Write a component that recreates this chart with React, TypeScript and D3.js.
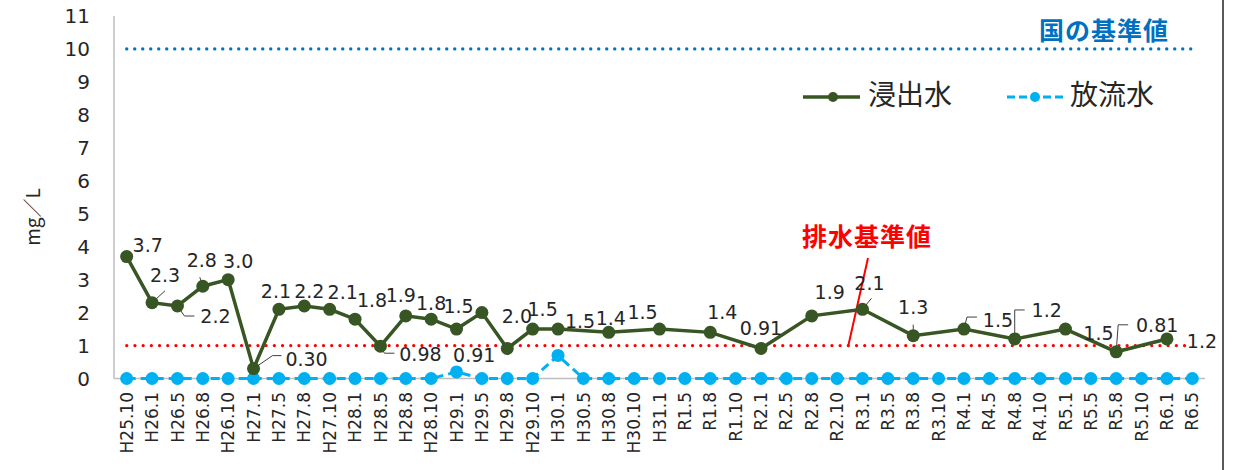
import React from "react";
import * as d3 from "d3";

const categories = [
  "H25.10", "H26.1", "H26.5", "H26.8", "H26.10", "H27.1", "H27.5", "H27.8", "H27.10",
  "H28.1", "H28.5", "H28.8", "H28.10", "H29.1", "H29.5", "H29.8", "H29.10", "H30.1",
  "H30.5", "H30.8", "H30.10", "H31.1", "R1.5", "R1.8", "R1.10", "R2.1", "R2.5", "R2.8",
  "R2.10", "R3.1", "R3.5", "R3.8", "R3.10", "R4.1", "R4.5", "R4.8", "R4.10", "R5.1",
  "R5.5", "R5.8", "R5.10", "R6.1", "R6.5",
];

// 浸出水 (leachate)
const leachate: (number | null)[] = [
  3.7, 2.3, 2.2, 2.8, 3.0, 0.30, 2.1, 2.2, 2.1,
  1.8, 0.98, 1.9, 1.8, 1.5, 2.0, 0.91, 1.5, 1.5,
  null, 1.4, null, 1.5, null, 1.4, null, 0.91, null, 1.9,
  null, 2.1, null, 1.3, null, 1.5, null, 1.2, null, 1.5,
  null, 0.81, null, 1.2, null,
];

// 放流水 (discharge)
const discharge: number[] = [
  0, 0, 0, 0, 0, 0, 0, 0, 0,
  0, 0, 0, 0, 0.2, 0, 0, 0, 0.7,
  0, 0, 0, 0, 0, 0, 0, 0, 0, 0,
  0, 0, 0, 0, 0, 0, 0, 0, 0, 0,
  0, 0, 0, 0, 0,
];

const yTicks = [0, 1, 2, 3, 4, 5, 6, 7, 8, 9, 10, 11];
const nationalStandard = 10;
const effluentStandard = 1;

const seriesNames = ["浸出水", "放流水"];
const nationalLabel = "国の基準値";
const effluentLabel = "排水基準値";
const yTitle = "mg／L";

// label layout (offsets of label centre from its point), by category index
const labelOffsets: Record<number, [number, number]> = {
  0: [21, -11], 1: [13, -28], 2: [38, 10], 3: [-1, -26], 4: [10, -18],
  5: [53, -9], 6: [-3, -18], 7: [5, -15], 8: [13, -17], 9: [17, -19],
  10: [40, 8], 11: [-5, -21], 12: [0, -16], 13: [2, -23], 14: [35, 4],
  15: [-33, 7], 16: [10, -20], 17: [22, -8], 19: [2, -14], 21: [-17, -17],
  23: [12, -20], 25: [0, -20], 27: [18, -24], 29: [7, -26], 31: [0, -28],
  33: [34, -9], 35: [32, -29], 37: [33, 4], 39: [41, -27], 41: [35, 2],
};

// leader lines, relative to the point
const leaders: Record<number, [number, number][]> = {
  1: [[0, 0], [13, -12]],
  2: [[0, 0], [7, 10], [17, 10]],
  3: [[-3, -9], [0, 0]],
  5: [[0, 0], [19, -13], [28, -13]],
  10: [[0, 0], [4, 7], [14, 7]],
  29: [[0, 0], [9, -11]],
  31: [[0, -11], [0, 0]],
  33: [[0, 0], [3, -12], [13, -12]],
  35: [[0, 0], [0, -29], [10, -29]],
  39: [[0, 0], [2, -27], [12, -27]],
};

const W = 1246;
const H = 470;
const GREEN = "#375623";
const BLUE = "#00B0F0";
const TEXT = "#262626";
const FONT = "'DejaVu Sans', sans-serif";
const CJK = "'Noto Sans CJK JP', sans-serif";

export default function App() {
  const x = d3.scaleBand<string>().domain(categories).range([114, 1205]).padding(0);
  const cx = (c: string) => (x(c) ?? 0) + x.bandwidth() / 2;
  const y = d3.scaleLinear().domain([0, 11]).range([378.5, 16]);

  const greenPts = categories
    .map((c, i) => ({ c, i, v: leachate[i] }))
    .filter((d) => d.v !== null) as { c: string; i: number; v: number }[];
  const bluePts = categories.map((c, i) => ({ c, i, v: discharge[i] }));

  const line = d3
    .line<{ c: string; v: number }>()
    .x((d) => cx(d.c))
    .y((d) => y(d.v));

  const fmt = d3.format(".2r");
  const refX0 = cx(categories[0]);
  const refX1 = cx(categories[categories.length - 1]);

  return (
    <svg
      width={W}
      height={H}
      style={{ position: "absolute", left: 0, top: 0, background: "#fff" }}
    >
      <rect x={0} y={0} width={W} height={H} fill="#fff" />
      {/* axes */}
      <line x1={114} x2={114} y1={y(11)} y2={y(0)} stroke="#BFBFBF" strokeWidth={1.5} />
      <line x1={114} x2={1205} y1={y(0)} y2={y(0)} stroke="#BFBFBF" strokeWidth={1.5} />
      {yTicks.map((t) => (
        <text
          key={t}
          x={90}
          y={y(t)}
          dy="0.36em"
          textAnchor="end"
          fontFamily={FONT}
          fontSize={20}
          fill={TEXT}
        >
          {t}
        </text>
      ))}
      {categories.map((c) => (
        <text
          key={c}
          transform={`translate(${cx(c)},392) rotate(-90)`}
          dy="0.36em"
          textAnchor="end"
          fontFamily={FONT}
          fontSize={17}
          fill={TEXT}
        >
          {c}
        </text>
      ))}
      <text
        transform={`translate(33,217) rotate(-90)`}
        dy="0.36em"
        textAnchor="middle"
        fontFamily={CJK}
        fontSize={19}
        fill={TEXT}
      >
        {yTitle}
      </text>

      {/* reference lines */}
      <line
        x1={refX0}
        x2={refX1}
        y1={y(nationalStandard)}
        y2={y(nationalStandard)}
        stroke="#0070C0"
        strokeWidth={3.2}
        strokeLinecap="round"
        strokeDasharray="0.1 7.9"
      />
      <line
        x1={refX0}
        x2={refX1}
        y1={y(effluentStandard)}
        y2={y(effluentStandard)}
        stroke="#FF0000"
        strokeWidth={3.2}
        strokeLinecap="round"
        strokeDasharray="0.1 8.1"
      />
      <text
        x={1104}
        y={31}
        dy="0.36em"
        textAnchor="middle"
        fontFamily={CJK}
        fontWeight="bold"
        fontSize={25}
        fill="#0070C0"
        letterSpacing={1}
      >
        {nationalLabel}
      </text>
      <text
        x={867}
        y={237}
        dy="0.36em"
        textAnchor="middle"
        fontFamily={CJK}
        fontWeight="bold"
        fontSize={25}
        fill="#FF0000"
        letterSpacing={1}
      >
        {effluentLabel}
      </text>
      <line x1={868} y1={258} x2={848} y2={347} stroke="#FF0000" strokeWidth={2} />

      {/* leader lines */}
      {Object.entries(leaders).map(([k, pts]) => {
        const i = +k;
        const px = cx(categories[i]);
        const py = y(leachate[i] as number);
        return (
          <polyline
            key={k}
            points={pts.map(([dx, dy]) => `${px + dx},${py + dy}`).join(" ")}
            fill="none"
            stroke="#404040"
            strokeWidth={1}
          />
        );
      })}

      {/* discharge series */}
      <path
        d={line(bluePts) ?? ""}
        fill="none"
        stroke={BLUE}
        strokeWidth={3}
        strokeDasharray="9 5"
      />
      {bluePts.map((d) => (
        <circle key={d.c} cx={cx(d.c)} cy={y(d.v)} r={6.5} fill={BLUE} />
      ))}

      {/* leachate series */}
      <path d={line(greenPts) ?? ""} fill="none" stroke={GREEN} strokeWidth={3.5} />
      {greenPts.map((d) => (
        <circle key={d.c} cx={cx(d.c)} cy={y(d.v)} r={6.5} fill={GREEN} />
      ))}
      {greenPts.map((d) => {
        const off = labelOffsets[d.i] ?? [0, -20];
        return (
          <text
            key={d.c}
            x={cx(d.c) + off[0]}
            y={y(d.v) + off[1]}
            dy="0.36em"
            textAnchor="middle"
            fontFamily={FONT}
            fontSize={19}
            fill={TEXT}
          >
            {fmt(d.v)}
          </text>
        );
      })}

      {/* legend */}
      <line x1={803} x2={860} y1={97} y2={97} stroke={GREEN} strokeWidth={3.5} />
      <circle cx={833} cy={97} r={5} fill={GREEN} />
      <text x={868} y={95} dy="0.36em" fontFamily={CJK} fontSize={28} fill={TEXT}>
        {seriesNames[0]}
      </text>
      <line
        x1={1007}
        x2={1063}
        y1={97}
        y2={97}
        stroke={BLUE}
        strokeWidth={3}
        strokeDasharray="8 4"
      />
      <circle cx={1035} cy={97} r={5} fill={BLUE} />
      <text x={1070} y={95} dy="0.36em" fontFamily={CJK} fontSize={28} fill={TEXT}>
        {seriesNames[1]}
      </text>

      {/* right border */}
      <line x1={1223} x2={1223} y1={0} y2={H} stroke="#000" strokeWidth={1.3} />
    </svg>
  );
}
